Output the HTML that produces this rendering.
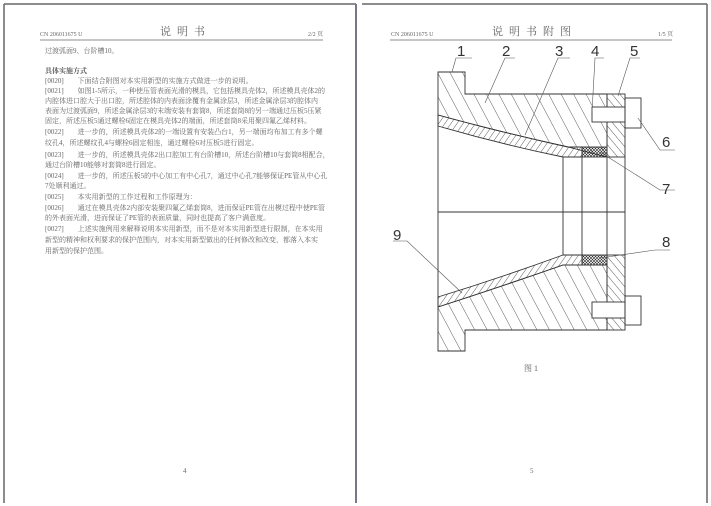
<!DOCTYPE html>
<html><head><meta charset="utf-8"><style>
html,body{margin:0;padding:0;background:#fff;}
body{width:711px;height:506px;overflow:hidden;position:relative;font-family:"Liberation Serif","Noto Serif CJK SC",serif;}
.t{position:absolute;font-size:7px;color:#666;white-space:nowrap;line-height:10px;}
</style></head><body>
<svg width="711" height="506" style="position:absolute;left:0;top:0">
<defs>
<pattern id="h1" width="11" height="11" patternUnits="userSpaceOnUse" patternTransform="rotate(-28)"><line x1="0" y1="0" x2="0" y2="11" stroke="#333" stroke-width="0.8"/></pattern>
<pattern id="h2" width="5" height="5" patternUnits="userSpaceOnUse" patternTransform="rotate(35)"><line x1="0" y1="0" x2="0" y2="5" stroke="#333" stroke-width="0.8"/></pattern>
<pattern id="h3" width="6" height="6" patternUnits="userSpaceOnUse" patternTransform="rotate(-40)"><line x1="0" y1="0" x2="0" y2="6" stroke="#333" stroke-width="0.8"/></pattern>
<pattern id="x" width="3" height="3" patternUnits="userSpaceOnUse"><path d="M0,0L3,3M3,0L0,3" stroke="#222" stroke-width="0.6"/></pattern>
</defs>
<g stroke="#666" fill="none">
<line x1="4" y1="4" x2="356" y2="4" stroke-width="1.5"/>
<line x1="4" y1="4" x2="4" y2="503" stroke-width="1.5"/>
<line x1="356" y1="4" x2="356" y2="503" stroke-width="2" stroke="#778"/>
<line x1="362" y1="4" x2="707" y2="4" stroke-width="1.5"/>
<line x1="707" y1="4" x2="707" y2="503" stroke-width="1.5"/>
<line x1="40" y1="40" x2="323" y2="40" stroke-width="0.7"/>
<line x1="390" y1="40" x2="672" y2="40" stroke-width="0.7"/>
</g>
<g stroke="#333" stroke-width="0.9">
<path d="M438,72 L465,72 L465,94 L607,94 L607,157 L568,147 Q500,132 438,115 Z" fill="url(#h1)"/>
<path d="M438,115 Q500,132 568,147 L582,147 L582,157 L563,157 Q500,144 438,126 Z" fill="url(#h2)"/>
<rect x="582" y="147" width="25" height="10" fill="url(#x)"/>
<rect x="607" y="94" width="18" height="63" fill="url(#h3)"/>
<rect x="592" y="107" width="33" height="15" fill="#fff"/>
<rect x="625" y="98" width="16" height="30" fill="none"/>
<path d="M438,307 Q500,287 563,265 L607,265 L607,330 L465,330 L465,351 L438,351 Z" fill="url(#h1)"/>
<path d="M438,297 Q500,278 563,255 L582,255 L582,265 L563,265 Q500,287 438,307 Z" fill="url(#h2)"/>
<rect x="582" y="255" width="25" height="10" fill="url(#x)"/>
<rect x="607" y="255" width="18" height="75" fill="url(#h3)"/>
<rect x="592" y="302" width="33" height="16" fill="#fff"/>
<rect x="625" y="296" width="16" height="29" fill="none"/>
<g fill="none">
<line x1="438" y1="115" x2="438" y2="307"/>
<line x1="563" y1="157" x2="563" y2="255"/>
<line x1="582" y1="157" x2="582" y2="255"/>
<line x1="607" y1="157" x2="607" y2="255"/>
<line x1="625" y1="157" x2="625" y2="255"/>
<line x1="438" y1="212" x2="625" y2="212"/>
</g>
<g fill="none" stroke-width="0.6" stroke="#555">
<path d="M452,72 L456,58 L472,58"/><path d="M485,103 L505,58 L515,58"/><path d="M525,135 L558,58 L570,58"/>
<path d="M592,112 L595,58 L604,58"/><path d="M618,96 L630,58 L640,58"/>
<path d="M638,118 L660,150 L675,150"/><path d="M600,152 L660,190 L675,190"/>
<path d="M600,258 L655,250 L670,250"/><path d="M462,293 L407,241 L393,241"/>
</g>
</g>
<g font-family="Liberation Sans,sans-serif" font-size="15" fill="#333">
<text x="457" y="56">1</text><text x="502" y="56">2</text><text x="555" y="56">3</text><text x="591" y="56">4</text><text x="630" y="56">5</text>
<text x="662" y="147">6</text><text x="662" y="194">7</text><text x="662" y="247">8</text><text x="393" y="240">9</text>
</g>
</svg>
<div class="t" style="left:40px;top:30px;font-size:6px">CN 206011675 U</div>
<div class="t" style="left:160px;top:27px;font-size:11px;letter-spacing:6px">说明书</div>
<div class="t" style="left:308px;top:30px;font-size:6px">2/2 页</div>
<div class="t" style="left:391px;top:30px;font-size:6px">CN 206011675 U</div>
<div class="t" style="left:492px;top:27px;font-size:11px;letter-spacing:6px">说明书附图</div>
<div class="t" style="left:658px;top:30px;font-size:6px">1/5 页</div>
<div class="t" style="left:45px;top:46px">过渡弧面9、台阶槽10。</div>
<div class="t" style="left:45px;top:66px;font-weight:bold;color:#555">具体实施方式</div>
<div class="t" style="left:45px;top:76px">[0020]　　下面结合附图对本实用新型的实施方式做进一步的说明。</div>
<div class="t" style="left:45px;top:86px">[0021]　　如图1-5所示，一种使压管表面光滑的模具，它包括模具壳体2，所述模具壳体2的</div>
<div class="t" style="left:45px;top:96px">内腔体进口腔大于出口腔，所述腔体的内表面涂覆有金属涂层3，所述金属涂层3的腔体内</div>
<div class="t" style="left:45px;top:106px">表面为过渡弧面9，所述金属涂层3的末端安装有套筒8，所述套筒8的另一端通过压板5压紧</div>
<div class="t" style="left:45px;top:116px">固定，所述压板5通过螺栓6固定在模具壳体2的端面，所述套筒8采用聚四氟乙烯材料。</div>
<div class="t" style="left:45px;top:127px">[0022]　　进一步的，所述模具壳体2的一端设置有安装凸台1，另一端面均布加工有多个螺</div>
<div class="t" style="left:45px;top:138px">纹孔4，所述螺纹孔4与螺栓6固定相连，通过螺栓6对压板5进行固定。</div>
<div class="t" style="left:45px;top:150px">[0023]　　进一步的，所述模具壳体2出口腔加工有台阶槽10，所述台阶槽10与套筒8相配合，</div>
<div class="t" style="left:45px;top:160px">通过台阶槽10能够对套筒8进行固定。</div>
<div class="t" style="left:45px;top:171px">[0024]　　进一步的，所述压板5的中心加工有中心孔7，通过中心孔7能够保证PE管从中心孔</div>
<div class="t" style="left:45px;top:181px">7处顺利通过。</div>
<div class="t" style="left:45px;top:192px">[0025]　　本实用新型的工作过程和工作原理为：</div>
<div class="t" style="left:45px;top:203px">[0026]　　通过在模具壳体2内部安装聚四氟乙烯套筒8，进而保证PE管在出模过程中使PE管</div>
<div class="t" style="left:45px;top:213px">的外表面光滑，进而保证了PE管的表面质量，同时也提高了客户满意度。</div>
<div class="t" style="left:45px;top:224px">[0027]　　上述实施例用来解释说明本实用新型，而不是对本实用新型进行限制，在本实用</div>
<div class="t" style="left:45px;top:235px">新型的精神和权利要求的保护范围内，对本实用新型做出的任何修改和改变，都落入本实</div>
<div class="t" style="left:45px;top:246px">用新型的保护范围。</div>
<div class="t" style="left:524px;top:364px;font-size:8px">图 1</div>
<div class="t" style="left:183px;top:466px;font-size:7px">4</div>
<div class="t" style="left:530px;top:466px;font-size:7px">5</div>
</body></html>
